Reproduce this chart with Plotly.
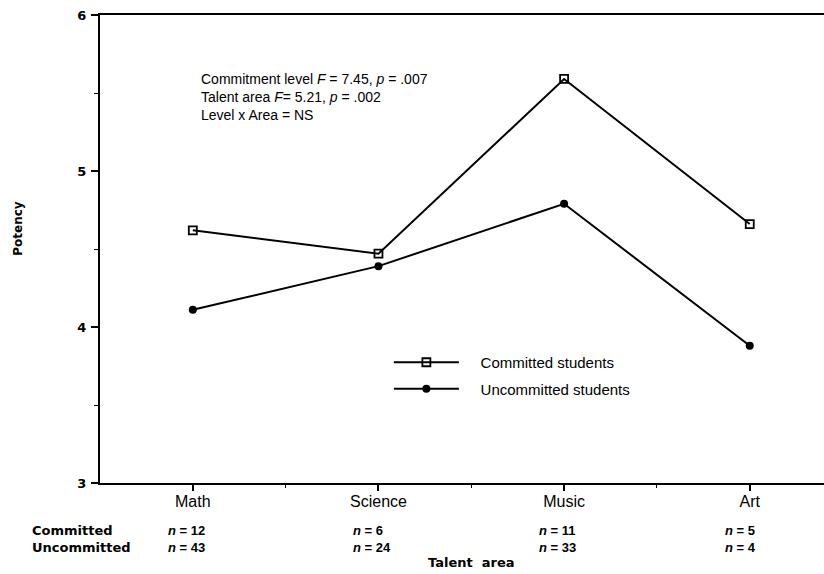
import plotly.graph_objects as go

categories = ["Math", "Science", "Music", "Art"]
committed = [4.62, 4.47, 5.59, 4.66]
uncommitted = [4.11, 4.39, 4.79, 3.88]
n_committed = [12, 6, 11, 5]
n_uncommitted = [43, 24, 33, 4]
y_ticks = [3, 4, 5, 6]
series_names = ["Committed students", "Uncommitted students"]
row_labels = ["Committed", "Uncommitted"]

xpos = list(range(len(categories)))
gap = "\u00a0\u00a0\u00a0\u00a0"

fig = go.Figure()
fig.add_trace(go.Scatter(
    x=xpos, y=committed, mode="lines+markers", name=gap + series_names[0],
    legendgroup="a",
    line=dict(color="black", width=2),
    marker=dict(symbol="square-open", size=8, color="black", line=dict(width=1.8, color="black")),
))
fig.add_trace(go.Scatter(
    x=xpos, y=uncommitted, mode="lines+markers", name=gap + series_names[1],
    legendgroup="b",
    line=dict(color="black", width=2),
    marker=dict(symbol="circle", size=8, color="black"),
))

ann = []
ann.append(dict(
    x=0.137, y=0.825, xref="paper", yref="paper", xanchor="left", yanchor="middle",
    align="left", showarrow=False,
    text="Commitment level <i>F</i> = 7.45, <i>p</i> = .007<br>Talent area <i>F</i>= 5.21, <i>p</i> = .002<br>Level x Area = NS",
    font=dict(family="Liberation Sans", size=14, color="black"),
))
rows_center = -0.12
ann.append(dict(x=-0.0967, y=rows_center, xref="paper", yref="paper", xanchor="left", yanchor="middle",
                align="left", showarrow=False,
                text="<br>".join(f"<b>{lab}</b>" for lab in row_labels),
                font=dict(family="DejaVu Sans", size=13, color="black")))
for i, (a, b) in enumerate(zip(n_committed, n_uncommitted)):
    ann.append(dict(x=i, y=rows_center, xref="x", yref="paper", xanchor="left", yanchor="middle",
                    align="left", xshift=-27, showarrow=False,
                    text=f"<b><i>n</i> = {a}</b><br><b><i>n</i> = {b}</b>",
                    font=dict(family="Liberation Sans", size=13, color="black")))
ann.append(dict(x=1.5, y=-0.169, xref="x", yref="paper", xanchor="center", yanchor="middle",
                showarrow=False, text="<b>Talent\u00a0\u00a0area</b>",
                font=dict(family="DejaVu Sans", size=13, color="black")))
ann.append(dict(x=-0.11, y=0.544, xref="paper", yref="paper", xanchor="center", yanchor="middle",
                xshift=-2, showarrow=False, textangle=-90, text="<b>Potency</b>",
                font=dict(family="DejaVu Sans", size=12, color="black")))

fig.update_layout(
    width=824, height=574,
    margin=dict(l=100, r=0, t=15, b=91, pad=0),
    plot_bgcolor="white", paper_bgcolor="white",
    showlegend=True,
    legend=dict(x=0.399, y=0.2927, xanchor="left", yanchor="top",
                bgcolor="rgba(0,0,0,0)", font=dict(family="Liberation Sans", size=15, color="black"),
                itemwidth=65, tracegroupgap=4, traceorder="grouped"),
    annotations=ann,
    xaxis=dict(
        range=[-0.5, 3.4], tickvals=xpos, ticktext=categories,
        showline=True, linecolor="black", linewidth=2, mirror=True,
        ticks="outside", ticklen=6, tickwidth=1.5, tickcolor="black",
        minor=dict(tickvals=[0.5, 1.5, 2.5], ticks="outside", ticklen=3, tickwidth=1.2, tickcolor="black"),
        showgrid=False, zeroline=False,
        tickfont=dict(family="Liberation Sans", size=16, color="black"),
        ticklabelstandoff=-3,
    ),
    yaxis=dict(
        range=[3, 6], tickvals=y_ticks,
        showline=True, linecolor="black", linewidth=2,
        ticks="outside", ticklen=7, tickwidth=1.5, tickcolor="black",
        minor=dict(dtick=0.5, tick0=0.5, ticks="outside", ticklen=4, tickwidth=1.2, tickcolor="black"),
        showgrid=False, zeroline=False,
        tickfont=dict(family="DejaVu Sans", size=13, color="black", weight="bold"),
        ticklabelstandoff=2,
    ),
)

fig.write_html("out.html", config={"displayModeBar": False},
               post_script="document.body.style.margin='0';document.body.style.padding='0';")
